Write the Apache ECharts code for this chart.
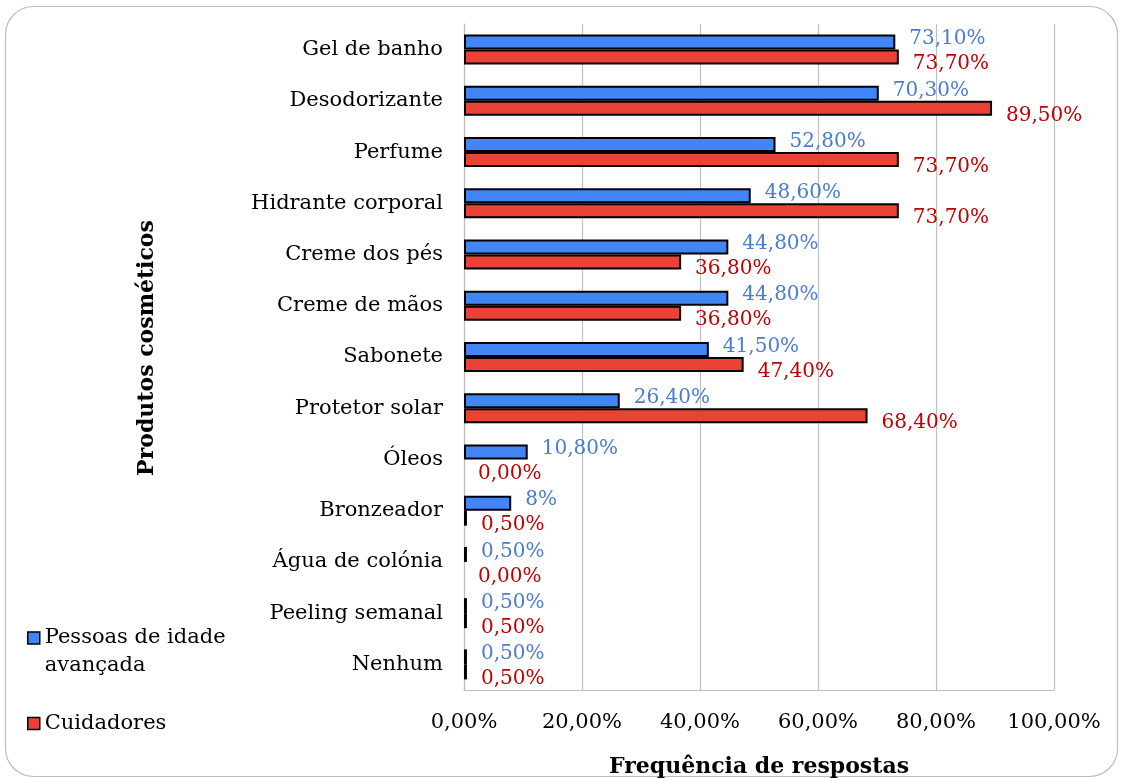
<!DOCTYPE html>
<html>
<head>
<meta charset="utf-8">
<title>Produtos cosméticos</title>
<script src="https://cdn.jsdelivr.net/npm/echarts@6/dist/echarts.min.js"></script>
<style>
  html, body { margin: 0; padding: 0; background: #fff; }
  #chart { width: 1121px; height: 778px; }
</style>
</head>
<body>
<div id="chart"></div>
<script>
const categories = [
  'Gel de banho', 'Desodorizante', 'Perfume', 'Hidrante corporal', 'Creme dos pés',
  'Creme de mãos', 'Sabonete', 'Protetor solar', 'Óleos', 'Bronzeador',
  'Água de colónia', 'Peeling semanal', 'Nenhum'
]
const idososValues = [73.1, 70.3, 52.8, 48.6, 44.8, 44.8, 41.5, 26.4, 10.8, 8, 0.5, 0.5, 0.5]
const cuidadoresValues = [73.7, 89.5, 73.7, 73.7, 36.8, 36.8, 47.4, 68.4, 0, 0.5, 0, 0.5, 0.5]
const xTicks = [0, 20, 40, 60, 80, 100]

const FONT = '"DejaVu Serif", Georgia, serif'

const pct = v => v.toFixed(2).replace('.', ',') + '%'
// the source shows "8%" for the one integer value it had typed that way
const barLabel = p => (Number.isInteger(p.value) && p.value !== 0) ? p.value + '%' : pct(p.value)
// zero bars keep their label but draw no outline stub
const toBars = arr => arr.map(v => v === 0 ? { value: v, itemStyle: { borderWidth: 0 } } : v)

const chart = echarts.init(document.getElementById('chart'))

const option = {
  backgroundColor: '#fff',
  textStyle: { fontFamily: FONT },
  graphic: [{
    type: 'rect',
    shape: { x: 5.5, y: 6.5, width: 1112, height: 770, r: 28 },
    style: { fill: 'none', stroke: '#bdbdbd', lineWidth: 1.2 },
    silent: true
  }],
  legend: [
    {
      data: ['Pessoas de idade avançada'],
      orient: 'vertical',
      left: 22,
      top: 591,
      icon: 'rect',
      itemWidth: 12,
      itemHeight: 12,
      itemStyle: { borderColor: '#000', borderWidth: 1.5 },
      // leading blank line keeps the marker level with the first line
      formatter: () => '\nPessoas de idade\navançada',
      textStyle: { fontFamily: FONT, fontSize: 21, color: '#000', lineHeight: 28 }
    },
    {
      data: ['Cuidadores'],
      orient: 'vertical',
      left: 22,
      top: 708,
      icon: 'rect',
      itemWidth: 12,
      itemHeight: 12,
      itemStyle: { borderColor: '#000', borderWidth: 1.5 },
      textStyle: { fontFamily: FONT, fontSize: 21, color: '#000' }
    }
  ],
  grid: {
    left: 464,
    right: 67,
    top: 24,
    bottom: 88,
    containLabel: false,
    outerBoundsMode: 'none'
  },
  xAxis: {
    type: 'value',
    min: 0,
    max: 100,
    interval: 20,
    name: 'Frequência de respostas',
    nameLocation: 'middle',
    nameGap: 66,
    nameTextStyle: { fontFamily: FONT, fontSize: 22, fontWeight: 'bold', color: '#000' },
    axisLine: { show: true, lineStyle: { color: '#bfbfbf', width: 1.2 } },
    axisTick: { show: false },
    axisLabel: {
      fontFamily: FONT,
      fontSize: 21,
      color: '#000',
      margin: 22,
      formatter: v => xTicks.includes(v) ? pct(v) : ''
    },
    splitLine: { lineStyle: { color: '#bfbfbf', width: 1.2 } }
  },
  yAxis: {
    type: 'category',
    data: categories,
    inverse: true,
    name: 'Produtos cosméticos',
    nameLocation: 'middle',
    nameRotate: 90,
    nameGap: 306,
    nameTextStyle: { fontFamily: FONT, fontSize: 22, fontWeight: 'bold', color: '#000', padding: [0, 0, 0, 18] },
    axisLine: { show: true, lineStyle: { color: '#bfbfbf', width: 1.2 } },
    axisTick: { show: false },
    axisLabel: { fontFamily: FONT, fontSize: 21, color: '#000', margin: 21 }
  },
  series: [
    {
      name: 'Pessoas de idade avançada',
      type: 'bar',
      data: toBars(idososValues),
      barWidth: 15,
      barGap: '0%',
      itemStyle: { color: '#4285f4', borderColor: '#000', borderWidth: 2 },
      label: {
        show: true,
        position: 'right',
        distance: 14,
        offset: [0, -3],
        fontFamily: FONT,
        fontSize: 20,
        color: '#4a7ccf',
        formatter: barLabel
      }
    },
    {
      name: 'Cuidadores',
      type: 'bar',
      data: toBars(cuidadoresValues),
      barWidth: 15,
      barGap: '0%',
      itemStyle: { color: '#ea4335', borderColor: '#000', borderWidth: 2 },
      label: {
        show: true,
        position: 'right',
        distance: 14,
        offset: [0, 7],
        fontFamily: FONT,
        fontSize: 20,
        color: '#c00000',
        formatter: barLabel
      }
    }
  ]
}

chart.setOption(option)

window.addEventListener('resize', () => chart.resize())
</script>
</body>
</html>
